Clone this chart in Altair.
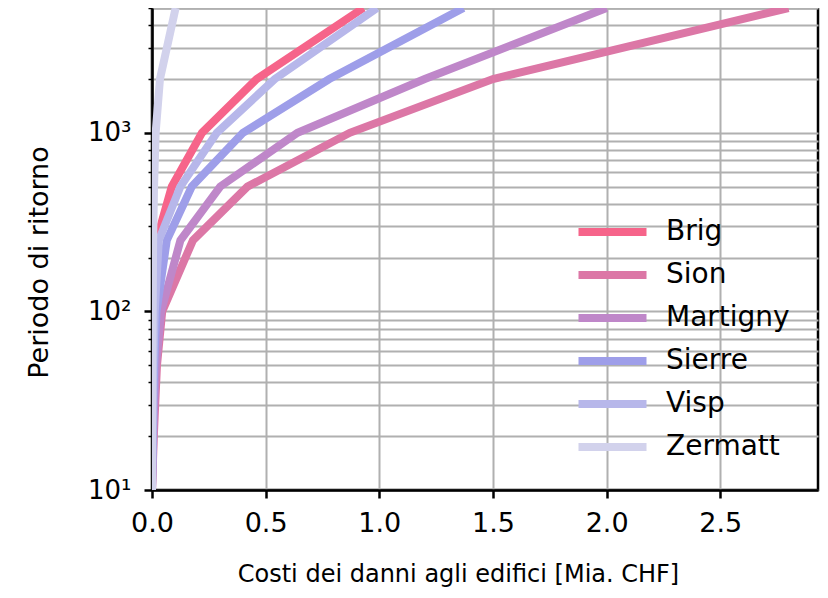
import altair as alt
import pandas as pd

# Return periods (years)
periods = [10, 20, 30, 50, 100, 250, 500, 1000, 2000, 5000]

# Building damage cost [Mia. CHF] per return period
brig     = [0.0, 0.001, 0.002, 0.004, 0.008, 0.020, 0.087, 0.220, 0.460, 0.930]
sion     = [0.0, 0.008, 0.014, 0.022, 0.045, 0.180, 0.420, 0.870, 1.500, 2.800]
martigny = [0.0, 0.006, 0.010, 0.018, 0.040, 0.125, 0.300, 0.640, 1.200, 2.000]
sierre   = [0.0, 0.004, 0.006, 0.010, 0.020, 0.065, 0.175, 0.400, 0.780, 1.370]
visp     = [0.0, 0.002, 0.004, 0.006, 0.012, 0.030, 0.125, 0.285, 0.540, 0.990]
zermatt  = [0.0, 0.0005, 0.001, 0.002, 0.003, 0.005, 0.009, 0.016, 0.035, 0.104]

cities = ["Brig", "Sion", "Martigny", "Sierre", "Visp", "Zermatt"]
colors = ["#f6648a", "#dc77a6", "#bf87c9", "#9e9ee9", "#b7b7ea", "#d2d2ec"]
series = [brig, sion, martigny, sierre, visp, zermatt]

x_ticks = [0.0, 0.5, 1.0, 1.5, 2.0, 2.5]
y_major = [10, 100, 1000]
y_minor = [20, 30, 40, 50, 60, 70, 80, 90,
           200, 300, 400, 500, 600, 700, 800, 900,
           2000, 3000, 4000, 5000]
y_labels = {10: "10¹", 100: "10²", 1000: "10³"}

rows = []
for city, vals in zip(cities, series):
    for p, v in zip(periods, vals):
        rows.append({"city": city, "period": p, "cost": v})
df = pd.DataFrame(rows)

major_test = " || ".join(f"datum.value == {v}" for v in y_major)
label_expr = " : ".join(f"datum.value == {k} ? '{v}'" for k, v in y_labels.items()) + " : ''"

chart = alt.Chart(df).mark_line(strokeWidth=8, clip=True).encode(
    x=alt.X("cost:Q",
            scale=alt.Scale(domain=[0, 2.93], nice=False, zero=False),
            axis=alt.Axis(values=x_ticks, format=".1f",
                          title="Costi dei danni agli edifici [Mia. CHF]",
                          titleFont="DejaVu Sans", titleFontSize=24,
                          titleFontWeight="normal", titleColor="black",
                          titleX=306, titleY=91, titleBaseline="alphabetic",
                          titleAlign="center",
                          labelFont="DejaVu Sans", labelFontSize=27,
                          labelColor="black", labelPadding=12,
                          tickSize=8, tickWidth=2.5, tickColor="black",
                          domainColor="black", domainWidth=2.5,
                          gridColor="#b0b0b0", gridWidth=2, gridOpacity=1,
                          labelFlush=False, labelOverlap=False)),
    y=alt.Y("period:Q",
            scale=alt.Scale(type="log", domain=[10, 5000], nice=False),
            axis=alt.Axis(values=y_major + y_minor, labelExpr=label_expr,
                          title="Periodo di ritorno",
                          titleFont="DejaVu Sans", titleFontSize=27,
                          titleFontWeight="normal", titleColor="black",
                          titleAngle=270, titleX=-105, titleY=254,
                          titleBaseline="alphabetic", titleAlign="center",
                          labelFont="DejaVu Sans", labelFontSize=26,
                          labelColor="black", labelPadding=13,
                          tickSize={"condition": {"test": major_test, "value": 8}, "value": 4},
                          tickWidth={"condition": {"test": major_test, "value": 2.5}, "value": 1.5},
                          tickColor="black",
                          domainColor="black", domainWidth=2.5,
                          gridColor="#b0b0b0", gridWidth=2, gridOpacity=1,
                          labelFlush=False, labelOverlap=False)),
    color=alt.Color("city:N",
                    scale=alt.Scale(domain=cities, range=colors),
                    sort=cities,
                    legend=alt.Legend(title=None, orient="none",
                                      legendX=422.5, legendY=209,
                                      symbolType="stroke", symbolSize=4624,
                                      symbolStrokeWidth=8, symbolOpacity=1,
                                      labelFont="DejaVu Sans", labelFontSize=28,
                                      labelColor="black", labelOffset=15.5,
                                      rowPadding=13, clipHeight=30, padding=0,
                                      labelLimit=300)),
    order=alt.Order("period:Q"),
).properties(
    width=666, height=482,
    autosize=alt.AutoSizeParams(type="none"),
    padding={"left": 144, "top": 0, "right": 2, "bottom": 100},
    background="white",
).configure_view(
    stroke="black", strokeWidth=2.5
)

chart.save("out.html", embed_options={"renderer": "svg", "actions": False})
